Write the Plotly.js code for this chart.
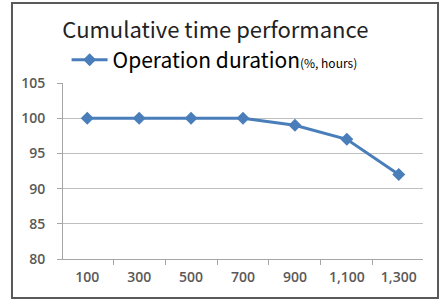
<!DOCTYPE html>
<html><head><meta charset="utf-8">
<script src="https://cdn.plot.ly/plotly-3.0.1.min.js"></script>
<style>html,body{margin:0;padding:0;background:#fff}</style>
</head><body>
<div id="chart" style="width:445px;height:299px"></div>
<script>
const categories = ["100", "300", "500", "700", "900", "1,100", "1,300"];
const durationValues = [100, 100, 100, 100, 99, 97, 92];
const seriesName = "Operation duration";
const seriesUnit = "(%, hours)";
const yTicks = [80, 85, 90, 95, 100, 105];

const trace = {
  x: categories,
  y: durationValues,
  type: "scatter",
  mode: "lines+markers",
  name: seriesName + "<span style='font-size:12px'>" + seriesUnit + "</span>",
  line: {color: "#4A7EBB", width: 3},
  marker: {symbol: "diamond", size: 10, color: "#4A7EBB"}
};

const tickFont = {size: 14, color: "#595959", family: "Open Sans, sans-serif", weight: 600};

const layout = {
  width: 445, height: 299,
  margin: {l: 63, r: 22, t: 83, b: 40},
  paper_bgcolor: "#fff", plot_bgcolor: "#fff",
  font: {family: "Noto Sans CJK KR, Open Sans, sans-serif", color: "#595959"},
  title: {text: "Cumulative time performance", x: 0.484, xanchor: "center", y: 0.9, yanchor: "middle",
          font: {size: 22, color: "#222", family: "Noto Sans CJK KR, Open Sans, sans-serif"}},
  showlegend: true,
  legend: {x: 0.01, xanchor: "left", y: 1.13, yanchor: "middle", orientation: "h",
           font: {size: 21, color: "#000", weight: 400}, bgcolor: "rgba(0,0,0,0)", itemwidth: 36},
  xaxis: {type: "category", showgrid: false, showline: true, linecolor: "#A6A6A6", linewidth: 1,
          ticks: "outside", ticklen: 5, tickcolor: "#A6A6A6", tickson: "boundaries",
          ticklabelstandoff: 5,
          tickfont: tickFont, fixedrange: true},
  yaxis: {range: [80, 105], tickvals: yTicks, showgrid: true, gridcolor: "#BFBFBF", gridwidth: 1,
          showline: true, linecolor: "#A6A6A6", ticks: "outside", ticklen: 5, tickcolor: "#A6A6A6",
          zeroline: false, ticklabelstandoff: 9,
          tickfont: tickFont},
  shapes: [{type: "rect", xref: "paper", yref: "paper", x0: -0.1417, x1: 1.0417, y0: -0.2216, y1: 1.4545,
            line: {color: "#595959", width: 2}, layer: "below"}]
};

Plotly.newPlot("chart", [trace], layout, {staticPlot: true, displayModeBar: false});
</script>
</body></html>
